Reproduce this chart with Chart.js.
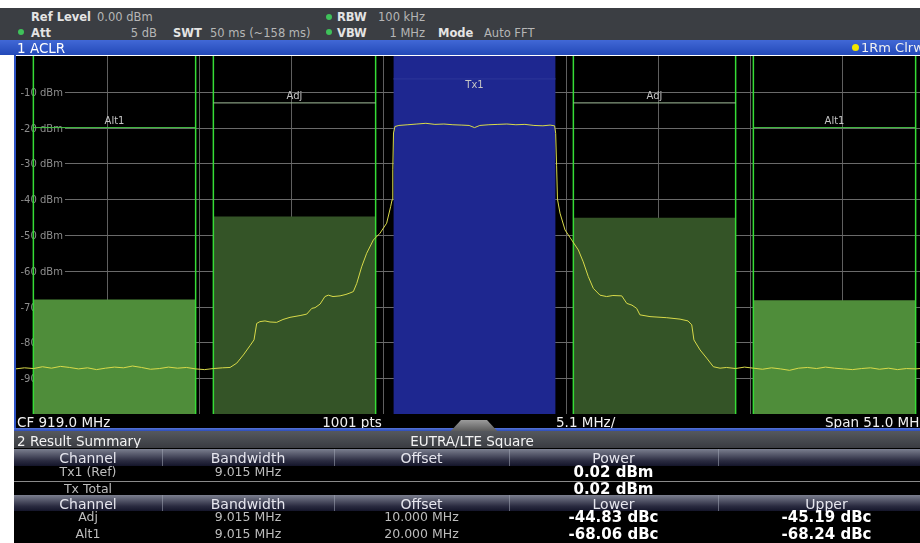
<!DOCTYPE html>
<html>
<head>
<meta charset="utf-8">
<script src="https://cdn.jsdelivr.net/npm/chart.js@4.4.0/dist/chart.umd.min.js"></script>
<style>
  html, body { margin:0; padding:0; width:920px; height:543px; overflow:hidden; background:#fff; }
  #screen { position:relative; width:920px; height:543px; overflow:hidden; font-family:"DejaVu Sans", sans-serif; }
  #plot { position:absolute; left:0; top:0; }
  .box { position:absolute; }
  .t { position:absolute; white-space:nowrap; line-height:16px; height:16px; }
</style>
</head>
<body>
<div id="screen">
  <canvas id="plot" width="940" height="543" style="width:940px;height:543px;"></canvas>
</div>
<script>
// ---- measurement settings ----
const centerFreqMHz = 919.0;
const spanMHz = 51.0;
const refLevelDbm = 0;
const rangeDb = 100;
const sweepPoints = 1001;

// ---- ACLR channel setup and results ----
const channelBandwidthMHz = 9.015;
const txChannelName = 'Tx1 (Ref)';
const txPowerDbm = 0.02;
const txTotalDbm = 0.02;
const adjChannelNames = ['Adj', 'Alt1'];
const adjOffsetsMHz = [10.0, 20.0];
const lowerDbc = [-44.83, -68.06];
const upperDbc = [-45.19, -68.24];

// ---- level axis labels ----
const yTickValues = [-10, -20, -30, -40, -50, -60, -70, -80, -90];
const yTickLabels = ['-10 dBm', '-20 dBm', '-30 dBm', '-40 dBm', '-50 dBm', '-60 dBm', '-70 dBm', '-80 dBm', '-90 dBm'];

// ---- channel tags (name, tag line level, tag text level) ----
const tagNames = ['Tx1', 'Adj', 'Alt1'];
const tagLineDbm = [-6.4, -13.1, -20.0];
const tagTextDbm = [-8.1, -11.2, -18.4];

// ---- trace 1 (RMS detector, clear write) ----
const traceFreqMHz = [
  893.5, 894.0, 894.5, 895.0, 895.5, 896.0, 896.5, 897.0, 897.5, 898.0, 898.5, 899.0, 899.5,
  900.0, 900.5, 901.0, 901.5, 902.0, 902.5, 903.0, 903.5, 904.0, 904.5, 905.0, 905.42,
  905.79, 906.16, 906.53, 906.75, 906.90, 907.08, 907.36, 907.64, 908.01, 908.36, 908.75,
  909.31, 909.68, 909.96, 910.14, 910.42, 910.69, 910.88, 911.14, 911.53, 911.86, 912.08,
  912.27, 912.46, 912.73, 913.01, 913.38, 913.75, 914.12, 914.34, 914.42, 914.46, 914.50, 914.58,
  914.8, 915.3, 915.8, 916.3, 916.8, 917.3, 917.8, 918.3, 918.7, 919.0, 919.3, 919.8,
  920.3, 920.8, 921.3, 921.8, 922.3, 922.8, 923.2, 923.45,
  923.51, 923.56, 923.61, 923.75, 924.03, 924.40, 924.77, 925.04, 925.32, 925.60, 925.97,
  926.34, 926.69, 927.18, 927.46, 927.75, 928.01, 928.19, 928.75, 929.68, 930.42, 930.86,
  931.07, 931.19, 931.53, 931.90, 932.27, 932.64,
  933.0, 933.5, 934.0, 934.5, 935.0, 935.5, 936.0, 936.5, 937.0, 937.5, 938.0, 938.5,
  939.0, 939.5, 940.0, 940.5, 941.0, 941.5, 942.0, 942.5, 943.0, 943.5, 944.0, 944.5
];
const traceLevelDbm = [
  -87.4, -87.1, -87.3, -86.8, -87.2, -86.7, -87.0, -87.4, -87.1, -87.6, -87.2, -86.9, -87.1,
  -86.6, -87.0, -87.5, -87.3, -86.9, -87.2, -87.0, -87.4, -87.6, -87.3, -87.1, -87.0,
  -85.8, -83.5, -80.9, -79.3, -74.7, -74.2, -74.0, -74.3, -74.4, -73.6, -73.0,
  -72.5, -72.1, -70.5, -70.3, -69.3, -67.2, -66.8, -67.2, -67.0, -66.6, -66.2,
  -65.8, -63.5, -58.9, -55.1, -51.4, -49.5, -46.7, -42.1, -40.2, -31.8, -21.5, -19.7,
  -19.4, -19.2, -19.0, -18.8, -19.1, -19.0, -19.2, -19.3, -19.4, -20.0, -19.4, -19.2,
  -19.1, -19.0, -19.2, -19.1, -19.4, -19.5, -19.3, -19.5,
  -21.6, -30.5, -40.0, -43.9, -48.6, -51.4, -54.2, -57.5, -61.6, -64.9, -66.8,
  -67.2, -66.9, -67.0, -69.1, -69.6, -70.5, -72.3, -72.8, -73.1, -73.5, -74.0,
  -75.1, -79.3, -82.1, -84.4, -86.8, -87.2,
  -87.0, -87.3, -86.9, -87.2, -87.5, -87.1, -87.4, -87.8, -87.2, -87.0, -87.3, -86.9,
  -87.2, -87.4, -87.6, -87.3, -87.1, -87.5, -87.2, -87.6, -87.3, -87.4, -87.2, -87.3
];

// ---- colours ----
const COL = {
  grid: '#5f5f5f',
  gridLabel: '#8d8d8d',
  txFill: '#1e2790',
  adjFill: '#345427',
  altFill: '#4f8d3a',
  chanEdge: '#36dc36',
  trace: '#d8da4a',
  tagText: '#c4c4c4'
};

const fMin = centerFreqMHz - spanMHz / 2;
const fMax = centerFreqMHz + spanMHz / 2;
const half = channelBandwidthMHz / 2;

// channel list built from the result arrays (level = dBc relative to Tx power)
const channels = [];
channels.push({ name: 'Tx1', center: centerFreqMHz, level: txPowerDbm, fill: COL.txFill, edge: false });
adjOffsetsMHz.forEach((off, i) => {
  const fill = i === 0 ? COL.adjFill : COL.altFill;
  channels.push({ name: adjChannelNames[i], center: centerFreqMHz - off, level: txPowerDbm + lowerDbc[i], fill, edge: true });
  channels.push({ name: adjChannelNames[i], center: centerFreqMHz + off, level: txPowerDbm + upperDbc[i], fill, edge: true });
});

const datasets = [];
// trace on top
datasets.push({
  data: traceFreqMHz.map((f, i) => ({ x: f, y: traceLevelDbm[i] })),
  borderColor: COL.trace, borderWidth: 1, pointRadius: 0, tension: 0, fill: false, order: 0
});
// channel power bars
channels.forEach(c => {
  datasets.push({
    data: [{ x: c.center - half, y: c.level }, { x: c.center + half, y: c.level }],
    borderWidth: 0, borderColor: 'rgba(0,0,0,0)', backgroundColor: c.fill,
    pointRadius: 0, fill: 'start', order: 4
  });
  if (c.edge) {
    [c.center - half, c.center + half].forEach(f => {
      datasets.push({
        data: [{ x: f, y: refLevelDbm }, { x: f, y: refLevelDbm - rangeDb }],
        borderColor: COL.chanEdge, borderWidth: 1.5, pointRadius: 0, fill: false, order: 2
      });
    });
  }
});
// channel tag lines
tagNames.forEach((name, i) => {
  channels.filter(c => c.name === name).forEach(c => {
    const color = name === 'Tx1' ? '#2d3699' : (name === 'Adj' ? '#a3bf9c' : '#46c846');
    datasets.push({
      data: [{ x: c.center - half, y: tagLineDbm[i] }, { x: c.center + half, y: tagLineDbm[i] }],
      borderColor: color, borderWidth: 1, pointRadius: 0, fill: false, order: 1
    });
  });
});

const crisp = v => Math.round(v) + 0.5;

const screenPlugin = {
  id: 'screen',
  beforeDraw(chart) {
    const { ctx, chartArea: a } = chart;
    ctx.save();
    ctx.fillStyle = '#000';
    ctx.fillRect(a.left, a.top, a.right - a.left, a.bottom - a.top);
    ctx.restore();
  },
  beforeDatasetsDraw(chart) {
    const { ctx, chartArea: a, scales: { x, y } } = chart;
    ctx.save();
    ctx.lineWidth = 1;
    ctx.strokeStyle = COL.grid;
    // vertical divisions
    for (let k = 1; k < 10; k++) {
      const px = crisp(x.getPixelForValue(fMin + k * spanMHz / 10));
      ctx.beginPath(); ctx.moveTo(px, a.top); ctx.lineTo(px, a.bottom); ctx.stroke();
    }
    // horizontal divisions with in-grid labels
    ctx.font = '10px "DejaVu Sans"';
    ctx.textBaseline = 'middle';
    ctx.textAlign = 'left';
    yTickValues.forEach((v, i) => {
      const py = crisp(y.getPixelForValue(v));
      const lx = a.left + 5;
      const w = ctx.measureText(yTickLabels[i]).width;
      ctx.strokeStyle = '#6a6a6a';
      ctx.beginPath(); ctx.moveTo(lx + w + 2, py); ctx.lineTo(a.right, py); ctx.stroke();
      ctx.fillStyle = COL.gridLabel;
      ctx.fillText(yTickLabels[i], lx, py + 0.5);
    });
    ctx.restore();
  },
  afterDatasetsDraw(chart) {
    const { ctx, scales: { x, y } } = chart;
    ctx.save();
    ctx.font = '10px "DejaVu Sans"';
    ctx.textAlign = 'center';
    ctx.textBaseline = 'middle';
    ctx.fillStyle = COL.tagText;
    tagNames.forEach((name, i) => {
      channels.filter(c => c.name === name).forEach(c => {
        ctx.fillText(name, x.getPixelForValue(c.center), y.getPixelForValue(tagTextDbm[i]));
      });
    });
    ctx.restore();
  }
};

new Chart(document.getElementById('plot'), {
  type: 'line',
  data: { datasets },
  options: {
    responsive: false,
    animation: false,
    devicePixelRatio: 1,
    events: [],
    layout: { padding: { left: 15.5, right: 6.5, top: 56, bottom: 129 } },
    plugins: { legend: { display: false }, tooltip: { enabled: false } },
    scales: {
      x: { type: 'linear', min: fMin, max: fMax, display: false },
      y: { type: 'linear', min: refLevelDbm - rangeDb, max: refLevelDbm, display: false }
    }
  },
  plugins: [screenPlugin]
});

// ---- instrument frame, status bars and result table ----
const screen = document.getElementById('screen');
function box(x, y, w, h, bg, extra) {
  const d = document.createElement('div');
  d.className = 'box';
  Object.assign(d.style, { left: x + 'px', top: y + 'px', width: w + 'px', height: h + 'px', background: bg }, extra || {});
  screen.appendChild(d);
  return d;
}
function txt(s, x, cy, o) {
  o = o || {};
  const d = document.createElement('div');
  d.className = 't';
  d.textContent = s;
  const align = o.align || 'left';
  let left = x;
  if (align === 'center') { left = x - 200; d.style.width = '400px'; d.style.textAlign = 'center'; }
  if (align === 'right') { left = x - 400; d.style.width = '400px'; d.style.textAlign = 'right'; }
  d.style.left = left + 'px';
  d.style.top = (cy - 8) + 'px';
  d.style.fontSize = (o.size || 12) + 'px';
  d.style.fontWeight = o.bold ? 'bold' : 'normal';
  d.style.color = o.color || '#ddd';
  screen.appendChild(d);
}
function dot(cx, cy, r, color) {
  box(cx - r, cy - r, 2 * r, 2 * r, color, { borderRadius: '50%' });
}

// header
box(0, 8, 920, 32, '#3b3e43');
const HL = '#e4e4e4', HV = '#b6b6b6';
txt('Ref Level', 31, 17, { bold: true, size: 11.5, color: HL });
txt('0.00 dBm', 97, 17, { size: 11.5, color: HV });
dot(21, 32, 3, '#3fc25a');
txt('Att', 31, 32.5, { bold: true, size: 11.5, color: HL });
txt('5 dB', 157, 32.5, { size: 11.5, color: HV, align: 'right' });
txt('SWT', 173, 32.5, { bold: true, size: 11.5, color: HL });
txt('50 ms (~158 ms)', 210, 32.5, { size: 11.5, color: HV });
dot(329, 17, 3, '#3fc25a');
txt('RBW', 337, 17, { bold: true, size: 11.5, color: HL });
txt('100 kHz', 378, 17, { size: 11.5, color: HV });
dot(329, 32, 3, '#3fc25a');
txt('VBW', 337, 32.5, { bold: true, size: 11.5, color: HL });
txt('1 MHz', 425, 32.5, { size: 11.5, color: HV, align: 'right' });
txt('Mode', 438, 32.5, { bold: true, size: 11.5, color: HL });
txt('Auto FFT', 484, 32.5, { size: 11.5, color: HV });

// window title bar
box(0, 40, 920, 15, 'linear-gradient(#4168d6, #2349b8)');
txt('1 ACLR', 17, 47.5, { size: 13.5, color: '#ffffff' });
dot(855, 47.5, 3.5, '#f2e600');
txt('1Rm Clrw', 861, 47.5, { size: 13, color: '#f0f0f0' });

// window frame and bottom scale bar
box(14, 55, 2, 376, '#2d52c4');
box(16, 414, 904, 14, '#000');
txt('CF ' + centerFreqMHz.toFixed(1) + ' MHz', 17, 421.5, { size: 13.5, color: '#f2f2f2' });
txt(sweepPoints + ' pts', 352, 421.5, { size: 13.5, color: '#f2f2f2', align: 'center' });
txt((spanMHz / 10).toFixed(1) + ' MHz/', 556, 421.5, { size: 13.5, color: '#f2f2f2' });
txt('Span ' + spanMHz.toFixed(1) + ' MHz', 825, 421.5, { size: 13.5, color: '#f2f2f2' });
box(14, 428, 906, 3, 'linear-gradient(#5574d8, #2c4cb8)');
box(449, 420, 50, 13, 'linear-gradient(#9c9c9c, #505050)', { clipPath: 'polygon(24% 0, 76% 0, 100% 100%, 0 100%)' });

// result summary
box(14, 431, 906, 17, 'linear-gradient(#55585e, #3a3c41)');
txt('2 Result Summary', 17, 440.5, { size: 13.5, color: '#f4f4f4' });
txt('EUTRA/LTE Square', 472, 440.5, { size: 13.5, color: '#f4f4f4', align: 'center' });
box(14, 448, 906, 95, '#000');

const colEdges = [14, 162, 334, 509, 718, 935];
const colCenter = i => (colEdges[i] + colEdges[i + 1]) / 2;
function headerBand(y, h, labels) {
  box(14, y, 906, h, 'linear-gradient(#7b7f8f, #2a2b40 70%, #14152a)');
  for (let i = 1; i < colEdges.length - 1; i++) box(colEdges[i], y, 1, h, 'rgba(160,165,180,0.55)');
  labels.forEach((s, i) => { if (s) txt(s, colCenter(i), y + 8.5, { size: 14, color: '#e6e6ee', align: 'center' }); });
}
const BV = '#bdbdbd';
headerBand(449, 17, ['Channel', 'Bandwidth', 'Offset', 'Power', '']);
txt(txChannelName, colCenter(0), 472, { size: 12.5, color: BV, align: 'center' });
txt(channelBandwidthMHz.toFixed(3) + ' MHz', colCenter(1), 472, { size: 12.5, color: BV, align: 'center' });
txt(txPowerDbm.toFixed(2) + ' dBm', colCenter(3), 472, { size: 15, bold: true, color: '#ffffff', align: 'center' });
box(14, 481, 906, 1, '#8a8a8a');
txt('Tx Total', colCenter(0), 488.5, { size: 12.5, color: BV, align: 'center' });
txt(txTotalDbm.toFixed(2) + ' dBm', colCenter(3), 488.5, { size: 15, bold: true, color: '#ffffff', align: 'center' });
headerBand(495, 16, ['Channel', 'Bandwidth', 'Offset', 'Lower', 'Upper']);
adjChannelNames.forEach((name, i) => {
  const cy = 517 + i * 16.5;
  txt(name, colCenter(0), cy, { size: 12.5, color: BV, align: 'center' });
  txt(channelBandwidthMHz.toFixed(3) + ' MHz', colCenter(1), cy, { size: 12.5, color: BV, align: 'center' });
  txt(adjOffsetsMHz[i].toFixed(3) + ' MHz', colCenter(2), cy, { size: 12.5, color: BV, align: 'center' });
  txt(lowerDbc[i].toFixed(2) + ' dBc', colCenter(3), cy, { size: 15, bold: true, color: '#ffffff', align: 'center' });
  txt(upperDbc[i].toFixed(2) + ' dBc', colCenter(4), cy, { size: 15, bold: true, color: '#ffffff', align: 'center' });
});
</script>
</body>
</html>
